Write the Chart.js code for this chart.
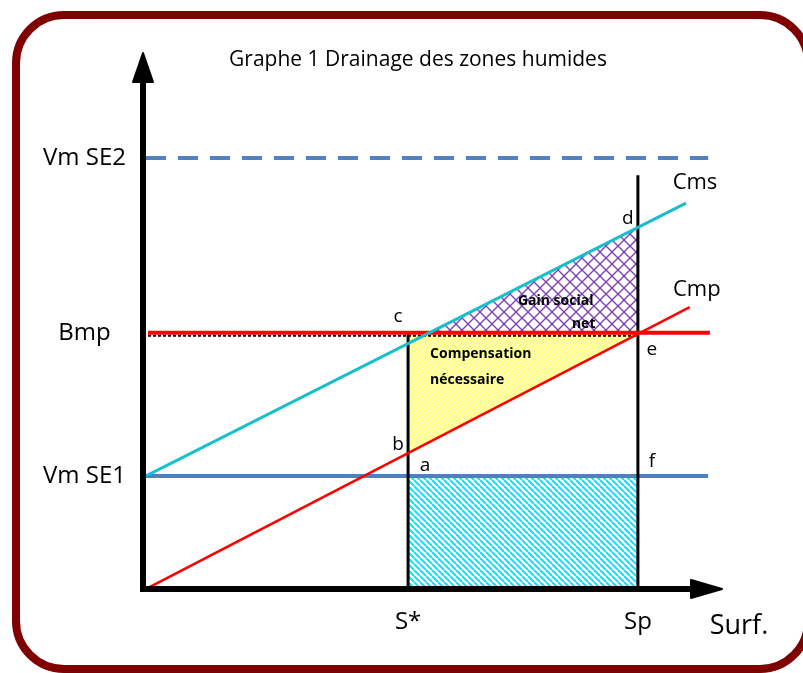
<!DOCTYPE html>
<html>
<head>
<meta charset="utf-8">
<script src="https://cdn.jsdelivr.net/npm/chart.js@4.4.1/dist/chart.umd.min.js"></script>
<style>
  body { margin: 0; background: #fff; }
  #wrap { width: 803px; height: 673px; }
</style>
</head>
<body>
<div id="wrap"><canvas id="MyChart" width="803" height="673"></canvas></div>
<script>
// niveaux sur l'axe vertical
const levelLabels = ['Vm SE2', 'Bmp', 'Vm SE1']
const levelValues = [80.4, 47.8, 21.1]
// surfaces sur l'axe horizontal
const surfLabels = ['S*', 'Sp']
const surfValues = [45.5, 85.4]
// courbes de cout
const cmsX = [0, 93.75]
const cmsY = [21.1, 72.0]
const cmpX = [0, 94.4]
const cmpY = [0, 52.6]
const lineEnd = 97.6
const bmpEnd = 97.9
const spTop = 77.2

const vmSE2 = levelValues[0], bmp = levelValues[1], vmSE1 = levelValues[2]
const sStar = surfValues[0], sp = surfValues[1]

const lineAt = (xs, ys, x) => ys[0] + (ys[1] - ys[0]) * (x - xs[0]) / (xs[1] - xs[0])
const xAt = (xs, ys, y) => xs[0] + (xs[1] - xs[0]) * (y - ys[0]) / (ys[1] - ys[0])

const cX = xAt(cmsX, cmsY, bmp)      // point c
const dY = lineAt(cmsX, cmsY, sp)    // point d
const eX = xAt(cmpX, cmpY, bmp)      // point e
const bY = lineAt(cmpX, cmpY, sStar) // point b

function makePattern(kind) {
  const c = document.createElement('canvas')
  const g = c.getContext('2d')
  if (kind == 'cyan') {
    c.width = 6; c.height = 6
    g.strokeStyle = '#00e8f8'
    g.lineWidth = 2
    for (let x = -6; x <= 6; x += 6) {
      g.beginPath(); g.moveTo(x, 0); g.lineTo(x + 6, 6); g.stroke()
    }
  } else if (kind == 'purple') {
    c.width = 12; c.height = 12
    g.strokeStyle = '#7d3fb8'
    g.lineWidth = 1.3
    for (let x = -12; x <= 12; x += 12) {
      g.beginPath(); g.moveTo(x, 0); g.lineTo(x + 12, 12); g.stroke()
      g.beginPath(); g.moveTo(x + 12, 0); g.lineTo(x, 12); g.stroke()
    }
  } else {
    c.width = 3; c.height = 3
    g.fillStyle = '#ffffc4'
    g.fillRect(0, 0, 3, 3)
    g.fillStyle = '#ffff55'
    g.fillRect(0, 0, 1, 1)
    g.fillRect(2, 1, 1, 1)
    g.fillRect(1, 2, 1, 1)
  }
  return g.createPattern(c, 'repeat')
}

const pts = (xs, ys) => xs.map((x, i) => ({x: x, y: ys[i]}))

const datasets = [
  // zones hachurees
  {label: 'zone cyan', data: pts([sStar, sp, sp, sStar, sStar], [0, 0, vmSE1, vmSE1, 0]),
   backgroundColor: makePattern('cyan'), borderWidth: 0, fill: 'shape', order: 20},
  {label: 'compensation', data: pts([sStar, eX, sStar, sStar], [bmp, bmp, bY, bmp]),
   backgroundColor: makePattern('yellow'), borderWidth: 0, fill: 'shape', order: 20},
  {label: 'gain', data: pts([cX, sp, sp, cX], [bmp, bmp, dY, bmp]),
   backgroundColor: makePattern('purple'), borderWidth: 0, fill: 'shape', order: 20},
  // lignes
  {label: 'pointille', data: pts([0.35, sp], [bmp, bmp]), borderColor: '#000', borderWidth: 2, borderDash: [3, 2], order: 15},
  {label: 'Vm SE2', data: pts([0, lineEnd], [vmSE2, vmSE2]), borderColor: '#4f81bd', borderWidth: 4, borderDash: [20, 12], order: 10},
  {label: 'Vm SE1', data: pts([0, lineEnd], [vmSE1, vmSE1]), borderColor: '#4f81bd', borderWidth: 4, order: 10},
  {label: 'S*', data: pts([sStar, sStar], [0, bmp]), borderColor: '#000', borderWidth: 3, order: 9},
  {label: 'Sp', data: pts([sp, sp], [0, spTop]), borderColor: '#000', borderWidth: 3, order: 9},
  {label: 'Bmp', data: pts([0.35, bmpEnd], [bmp, bmp]), borderColor: '#ff0000', borderWidth: 4, order: 5},
  {label: 'Cms', data: pts(cmsX, cmsY), borderColor: '#17bfcc', borderWidth: 3, order: 4},
  {label: 'Cmp', data: pts(cmpX, cmpY), borderColor: '#ff0000', borderWidth: 2.5, order: 4}
]
datasets.forEach(d => { d.showLine = true; d.pointRadius = 0; d.tension = 0 })

const FONT = "'Open Sans', 'Liberation Sans', sans-serif"

const decor = {
  id: 'decor',
  beforeDatasetDraw(chart, args) {
    if (args.meta.label == 'pointille') {
      chart.ctx.save()
      chart.ctx.translate(0, 3)
    }
  },
  afterDatasetDraw(chart, args) {
    if (args.meta.label == 'pointille') chart.ctx.restore()
  },
  afterDraw(chart) {
    const ctx = chart.ctx
    const xs = chart.scales.x, ys = chart.scales.y
    const px = v => xs.getPixelForValue(v)
    const py = v => ys.getPixelForValue(v)
    const area = chart.chartArea
    ctx.save()

    // cadre arrondi
    ctx.strokeStyle = '#800000'
    ctx.lineWidth = 8
    ctx.beginPath()
    ctx.roundRect(16, 15, 792, 654, 48)
    ctx.stroke()

    // axes avec fleches
    const ax = area.left - 3, ay = area.bottom
    ctx.fillStyle = '#000'
    ctx.strokeStyle = '#000'
    ctx.lineWidth = 6
    ctx.beginPath(); ctx.moveTo(ax, ay + 3); ctx.lineTo(ax, area.top + 28); ctx.stroke()
    ctx.beginPath(); ctx.moveTo(ax - 3, ay); ctx.lineTo(area.right - 30, ay); ctx.stroke()
    ctx.lineJoin = 'round'
    ctx.lineWidth = 2
    ctx.beginPath()
    ctx.moveTo(ax, area.top); ctx.lineTo(ax + 10, area.top + 29); ctx.lineTo(ax - 10, area.top + 29); ctx.closePath()
    ctx.fill(); ctx.stroke()
    ctx.beginPath()
    ctx.moveTo(area.right, ay); ctx.lineTo(area.right - 31, ay + 9); ctx.lineTo(area.right - 31, ay - 9); ctx.closePath()
    ctx.fill(); ctx.stroke()

    // titre
    ctx.fillStyle = '#000'
    ctx.textAlign = 'center'
    ctx.textBaseline = 'alphabetic'
    ctx.font = '21px ' + FONT
    ctx.fillText('Graphe 1 Drainage des zones humides', 418, 66, 382)

    // lettres des points
    ctx.font = '19px ' + FONT
    ctx.textBaseline = 'middle'
    ctx.fillText('c', px(sStar) - 10, py(bmp) - 16)
    ctx.fillText('d', px(sp) - 10, py(dY) - 9)
    ctx.fillText('e', px(sp) + 14, py(bmp) + 17)
    ctx.fillText('b', px(sStar) - 10, py(bY) - 9)
    ctx.fillText('a', px(sStar) + 17, py(vmSE1) - 10)
    ctx.fillText('f', px(sp) + 14, py(vmSE1) - 14)

    // noms des courbes
    ctx.font = '22px ' + FONT
    ctx.fillText('Cms', px(cmsX[1]) + 9, py(cmsY[1]) - 20)
    ctx.fillText('Cmp', px(cmpX[1]) + 7, py(cmpY[1]) - 17)
    ctx.font = '27px ' + FONT
    ctx.fillText('Surf.', 739, 626)

    // textes des zones
    ctx.font = 'bold 14px ' + FONT
    ctx.textAlign = 'left'
    ctx.textBaseline = 'alphabetic'
    ctx.fillText('Gain social', px(sp) - 120, py(bmp) - 28, 78)
    ctx.fillText('net', px(sp) - 66, py(bmp) - 5, 24)
    ctx.fillText('Compensation', px(sStar) + 22, py(bmp) + 25, 107)
    ctx.fillText('nécessaire', px(sStar) + 22, py(bmp) + 51, 80)
    ctx.restore()
  }
}

new Chart(document.getElementById('MyChart'), {
  type: 'scatter',
  data: {datasets: datasets},
  options: {
    responsive: false,
    animation: false,
    events: [],
    layout: {padding: {left: 0, right: 81, top: 53, bottom: 0}},
    plugins: {legend: {display: false}, tooltip: {enabled: false}},
    scales: {
      x: {
        type: 'linear', min: 0, max: 100,
        border: {display: false},
        grid: {display: false, drawTicks: false},
        afterBuildTicks: (scale) => { scale.ticks = surfValues.map(v => ({value: v})) },
        afterFit: (scale) => { scale.height = 84 },
        ticks: {
          autoSkip: false, maxRotation: 0, padding: 19, color: '#000',
          font: {family: FONT, size: 24},
          callback: (v) => surfLabels[surfValues.indexOf(v)]
        }
      },
      y: {
        type: 'linear', min: 0, max: 100,
        border: {display: false},
        grid: {display: false, drawTicks: false},
        afterBuildTicks: (scale) => { scale.ticks = levelValues.map(v => ({value: v})) },
        afterFit: (scale) => { scale.width = 146 },
        ticks: {
          autoSkip: false, padding: 20, color: '#000', crossAlign: 'center',
          font: {family: FONT, size: 24},
          callback: (v) => levelLabels[levelValues.indexOf(v)]
        }
      }
    }
  },
  plugins: [decor]
})
</script>
</body>
</html>
